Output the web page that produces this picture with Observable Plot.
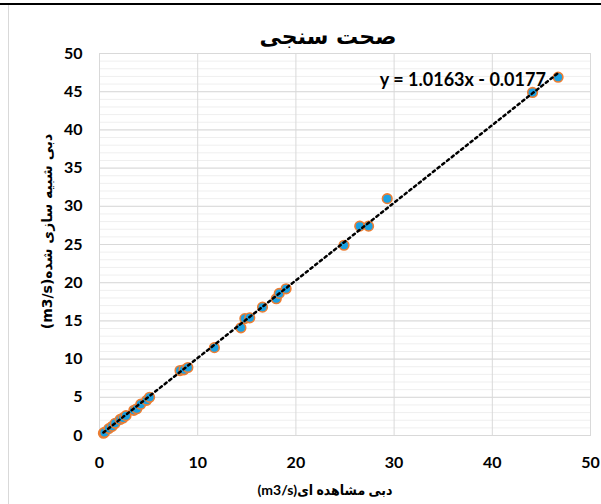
<!DOCTYPE html>
<html>
<head>
<meta charset="utf-8">
<script src="https://cdn.jsdelivr.net/npm/d3@7"></script>
<script src="https://cdn.jsdelivr.net/npm/@observablehq/plot@0.6"></script>
<style>
  html, body { margin: 0; padding: 0; background: #fff; }
  #wrap { position: relative; width: 601px; height: 504px; overflow: hidden; }
  #topline { position: absolute; left: 0; top: 3px; width: 601px; height: 2px; background: #000; }
  #leftline { position: absolute; left: 8px; top: 5px; width: 1px; height: 499px; background: #d9d9d9; }
  #chart { position: absolute; left: 0; top: 0; }
</style>
</head>
<body>
<div id="wrap">
  <div id="chart"></div>
  <div id="topline"></div>
  <div id="leftline"></div>
</div>
<script>
const titleText = "صحت سنجی";
const xLabel = "دبی مشاهده ای(m3/s)";
const yLabel = "دبی شبیه سازی شده(m3/s)";
const equationText = "y = 1.0163x - 0.0177";
const slope = 1.0163;
const intercept = -0.0177;

const observed = [0.4, 0.5, 0.95, 1.3, 1.6, 2.1, 2.4, 2.7, 3.5, 3.8, 4.2, 4.8, 5.1,
  8.2, 8.6, 9.0, 11.7, 14.4, 14.8, 15.3, 16.6, 18.0, 18.3, 19.0, 24.9,
  26.5, 27.4, 29.3, 44.1, 46.7];
const simulated = [0.3, 0.4, 0.9, 1.2, 1.6, 2.1, 2.3, 2.6, 3.3, 3.5, 4.1, 4.6, 5.0,
  8.5, 8.6, 8.9, 11.5, 14.1, 15.3, 15.4, 16.8, 17.9, 18.6, 19.2, 24.9,
  27.4, 27.4, 31.0, 44.9, 46.9];
const xTicks = [0, 10, 20, 30, 40, 50];
const yTicks = [0, 5, 10, 15, 20, 25, 30, 35, 40, 45, 50];
const yMinorTicks = d3.range(0, 51, 1);

const points = observed.map((x, i) => ({x, y: simulated[i]}));
const [xmin, xmax] = d3.extent(observed);
const trend = [xmin, xmax].map(x => ({x, y: slope * x + intercept}));

const persian = "'DejaVu Sans', 'Noto Sans', sans-serif";
const mixed = "Lato, 'DejaVu Sans Condensed', 'DejaVu Sans', sans-serif";

const chart = Plot.plot({
  width: 601,
  height: 504,
  marginLeft: 99,
  marginRight: 11,
  marginTop: 53,
  marginBottom: 69,
  x: {domain: [0, 50]},
  y: {domain: [0, 50]},
  style: {fontFamily: "Lato, 'Liberation Sans', sans-serif", fontWeight: "bold", fontSize: "16px", color: "#000", background: "transparent"},
  marks: [
    Plot.gridY(yMinorTicks, {stroke: "#efefef", strokeOpacity: 1}),
    Plot.gridY(yTicks, {stroke: "#d9d9d9", strokeOpacity: 1}),
    Plot.gridX(xTicks, {stroke: "#d9d9d9", strokeOpacity: 1}),
    Plot.frame({stroke: "#d9d9d9"}),
    Plot.axisX(xTicks, {tickSize: 0, tickPadding: 21, label: null, fill: "#000"}),
    Plot.axisY(yTicks, {tickSize: 0, tickPadding: 17, label: null, fill: "#000"}),
    Plot.dot(points, {x: "x", y: "y", r: 4.8, fill: "#1BA1E2", stroke: "#ED7D31", strokeWidth: 1.6}),
    Plot.line(trend, {x: "x", y: "y", stroke: "#000", strokeWidth: 2.5, strokeDasharray: "2.5,3.5"}),
    Plot.text([equationText], {x: 37.0, y: 46.5, text: d => d, fontSize: 18, fontWeight: "bold", fill: "#000"}),
    Plot.text([titleText], {frameAnchor: "top", text: d => d, dy: -17, dx: -17, textAnchor: "middle", lineAnchor: "middle", fontSize: 22, fontWeight: "bold", fontFamily: persian, fill: "#000", className: "rtl-text"}),
    Plot.text([xLabel], {frameAnchor: "bottom", text: d => d, dy: 55, dx: -20, textAnchor: "middle", lineAnchor: "middle", fontSize: 14, fontWeight: "bold", fontFamily: mixed, fill: "#000", className: "rtl-text"}),
    Plot.text([yLabel], {frameAnchor: "left", text: d => d, dx: -52, dy: -13, rotate: -90, textAnchor: "middle", lineAnchor: "middle", fontSize: 14, fontWeight: "bold", fontFamily: persian, fill: "#000", className: "rtl-text"})
  ]
});

d3.select(chart).selectAll(".rtl-text text").attr("direction", "rtl");
document.getElementById("chart").appendChild(chart);
</script>
</body>
</html>
